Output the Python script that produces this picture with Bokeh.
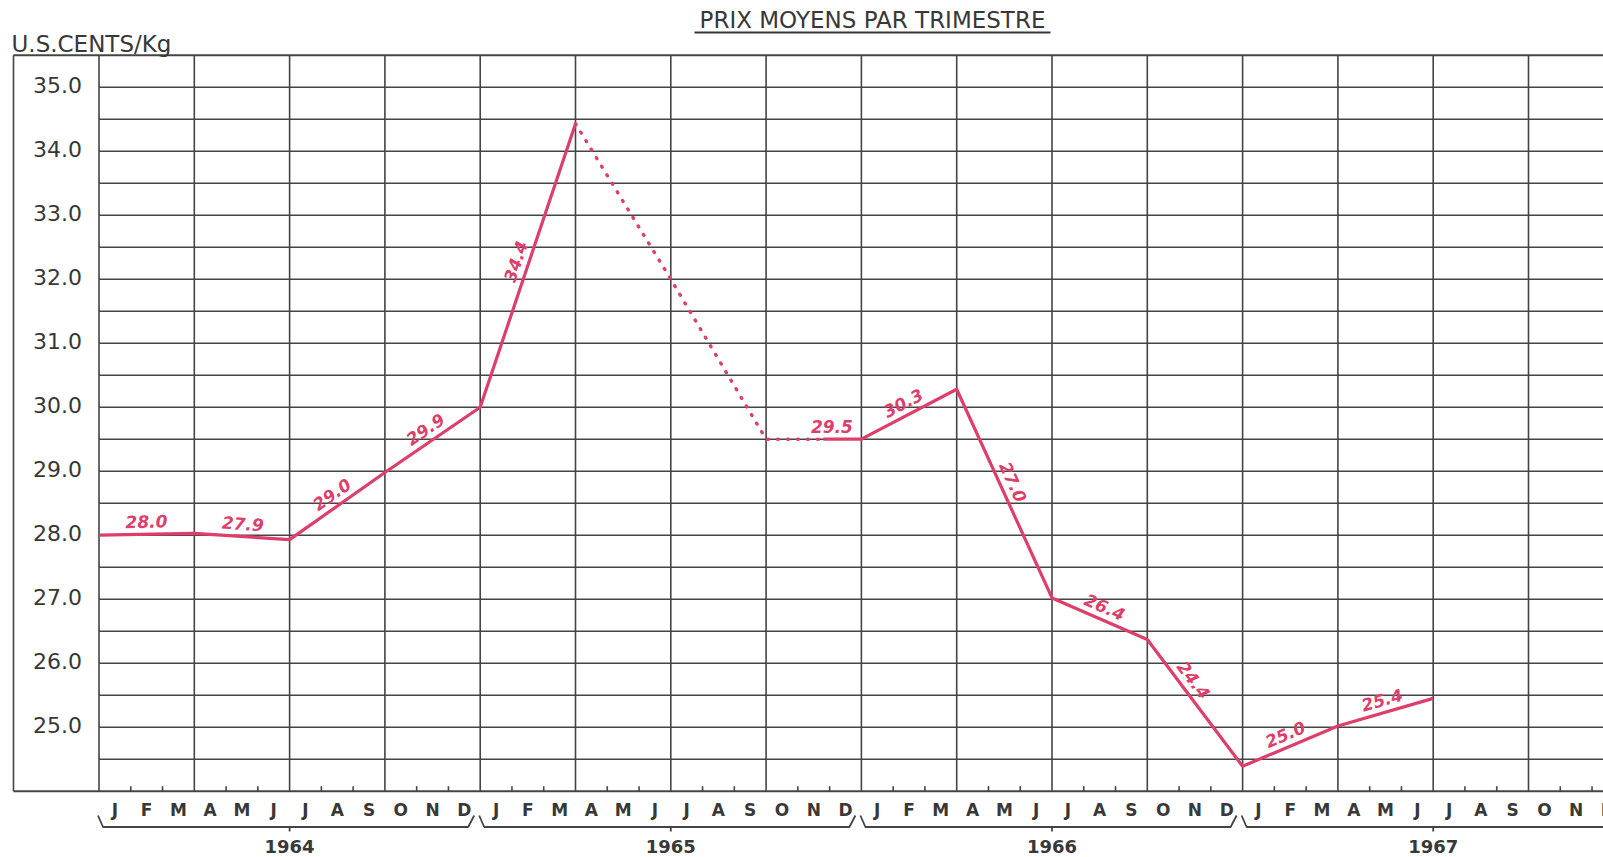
import math
from bokeh.plotting import figure
from bokeh.models import ColumnDataSource, Range1d
from bokeh.core.properties import value
from bokeh.embed import file_html
from bokeh.resources import INLINE

# ---------------- data ----------------
title_text = "PRIX MOYENS PAR TRIMESTRE"
unit_text = "U.S.CENTS/Kg"
years = ["1964", "1965", "1966", "1967"]
months = ["J", "F", "M", "A", "M", "J", "J", "A", "S", "O", "N", "D"]
y_ticks = [25.0, 26.0, 27.0, 28.0, 29.0, 30.0, 31.0, 32.0, 33.0, 34.0, 35.0]
y_tick_labels = ["25.0", "26.0", "27.0", "28.0", "29.0", "30.0", "31.0", "32.0", "33.0", "34.0", "35.0"]

# price line, at quarter boundaries (0 = start of January 1964)
solid1_q = [0, 1, 2, 3, 4, 5]
solid1_p = [28.0, 28.03, 27.93, 28.98, 30.0, 34.43]
dotted_q = [5, 6, 7, 7.6]
dotted_p = [34.43, 32.0, 29.5, 29.5]
solid2_q = [7.6, 8, 9, 10, 11, 12, 13, 14]
solid2_p = [29.5, 29.5, 30.28, 27.02, 26.37, 24.39, 25.02, 25.45]

# quarterly averages written along the segments
avg_labels = ["28.0", "27.9", "29.0", "29.9", "34.4", "29.5", "30.3", "27.0", "26.4", "24.4", "25.0", "25.4"]
avg_seg_start = [0, 1, 2, 3, 4, 7, 8, 9, 10, 11, 12, 13]
avg_seg_end = [1, 2, 3, 4, 5, 8, 9, 10, 11, 12, 13, 14]

# ---------------- layout ----------------
# where along each segment its label sits (fraction), and its distance from the line (px)
label_frac = [0.5, 0.5, 0.52, 0.5, 0.5, 0.69, 0.5, 0.47, 0.5, 0.38, 0.5, 0.5]
label_dist = 13

W, H = 1603, 857
X0 = 98.5      # page px of quarter 0
XS = 95.3      # px per quarter
Y35 = 86.7     # page px of 35.0
YS = 64.0      # px per cent

def qx(px):
    return (px - X0) / XS

def vy(py):
    return 35.0 - (py - Y35) / YS

x_lo, x_hi = qx(0), qx(W)
y_lo, y_hi = vy(H), vy(0)

p = figure(width=W, height=H, output_backend="svg", toolbar_location=None,
           x_range=Range1d(x_lo, x_hi), y_range=Range1d(y_lo, y_hi),
           x_axis_type=None, y_axis_type=None, min_border=0,
           background_fill_color="white", border_fill_color="white")
p.outline_line_color = None
p.xgrid.visible = False
p.ygrid.visible = False

GRID = "#444444"
GW = 1.6
RED = "#de3f6a"
INK = "#383838"

y_min, y_max = 24.0, 35.5
n_q = 16
frame_left = qx(13)
right_end = x_hi + 1

# horizontal grid lines
h_levels = [24.0 + 0.5 * i for i in range(1, 23)]
p.segment(x0=[0] * len(h_levels), y0=h_levels, x1=[right_end] * len(h_levels), y1=h_levels,
          line_color=GRID, line_width=GW)
# frame top / bottom
p.segment(x0=[frame_left, frame_left], y0=[y_max, y_min], x1=[right_end, right_end], y1=[y_max, y_min],
          line_color=GRID, line_width=GW + 0.4)
# left border
p.segment(x0=[frame_left], y0=[y_min], x1=[frame_left], y1=[y_max], line_color=GRID, line_width=GW)
# vertical quarter lines
vq = list(range(0, n_q + 1))
p.segment(x0=vq, y0=[y_min] * len(vq), x1=vq, y1=[y_max] * len(vq), line_color=GRID, line_width=GW)
# month ticks
mt = [q + k / 3 for q in range(n_q) for k in (1, 2)]
p.segment(x0=mt, y0=[y_min] * len(mt), x1=mt, y1=[y_min + 5 / YS] * len(mt), line_color=GRID, line_width=GW)

# y tick labels
p.text(x=[qx(57)] * len(y_ticks), y=y_ticks, text=y_tick_labels, y_offset=-2,
       text_font=value("DejaVu Sans"), text_font_size=value("22px"), text_color=INK,
       text_align="center", text_baseline="middle")

# unit label
p.text(x=[qx(11)], y=[vy(43)], text=[unit_text], text_font=value("DejaVu Sans"),
       text_font_size=value("23px"), text_color=INK, text_align="left", text_baseline="middle")

# title + underline
p.text(x=[qx(872)], y=[vy(19)], text=[title_text], text_font=value("DejaVu Sans"),
       text_font_size=value("23px"), text_color=INK, text_align="center", text_baseline="middle")
title_w = 356
p.segment(x0=[qx(872 - title_w / 2)], y0=[vy(32)], x1=[qx(872 + title_w / 2)], y1=[vy(32)],
          line_color=INK, line_width=2.2)

# month letters
mx = [4 * yi + (mi + 0.5) / 3 for yi in range(len(years)) for mi in range(len(months))]
ml = [months[mi] for yi in range(len(years)) for mi in range(len(months))]
p.text(x=mx, y=[vy(809)] * len(mx), text=ml, text_font=value("DejaVu Sans"), text_font_style="bold",
       text_font_size=value("17px"), text_color=INK, text_align="center", text_baseline="middle")

# year braces
bx, by = [], []
tx, ty = [], []
for yi in range(len(years)):
    s = X0 + 4 * yi * XS
    e = s + 4 * XS
    bx.append([qx(s - 1), qx(s + 4), qx(e - 12), qx(e - 6)])
    by.append([vy(815), vy(826.5), vy(826.5), vy(815)])
    m = (s + e) / 2
    tx.append([qx(m), qx(m)])
    ty.append([vy(826.5), vy(831)])
p.multi_line(xs=bx, ys=by, line_color=GRID, line_width=1.8)
p.multi_line(xs=tx, ys=ty, line_color=GRID, line_width=1.8)
p.text(x=[4 * yi + 2 for yi in range(len(years))], y=[vy(846)] * len(years), text=years,
       text_font=value("DejaVu Sans"), text_font_style="bold", text_font_size=value("18px"),
       text_color=INK, text_align="center", text_baseline="middle")

# price line
p.line(solid1_q, solid1_p, line_color=RED, line_width=3.2, line_join="round")
p.line(dotted_q, dotted_p, line_color=RED, line_width=3.4, line_dash="1 9", line_cap="round")
p.line(solid2_q, solid2_p, line_color=RED, line_width=3.2, line_join="round")

# labels along segments
vert = dict(zip(solid1_q + dotted_q + solid2_q, solid1_p + dotted_p + solid2_p))
lx, ly, la, lxo, lyo = [], [], [], [], []
for s, e, f in zip(avg_seg_start, avg_seg_end, label_frac):
    ps, pe = vert[s], vert[e]
    if s == 7:  # the flat part of the segment
        pe = ps
    a = math.atan2((pe - ps) * YS, (e - s) * XS)
    lx.append(s + (e - s) * f)
    ly.append(ps + (pe - ps) * f)
    la.append(a)
    lxo.append(-math.sin(a) * label_dist)
    lyo.append(-math.cos(a) * label_dist)
src = ColumnDataSource(dict(x=lx, y=ly, t=avg_labels, a=la, xo=lxo, yo=lyo))
p.text(x="x", y="y", text="t", angle="a", x_offset="xo", y_offset="yo", source=src,
       text_font=value("DejaVu Sans"), text_font_style="bold italic", text_font_size=value("17px"),
       text_color=RED, text_align="center", text_baseline="middle")

open("out.html", "w").write(file_html(p, INLINE))
